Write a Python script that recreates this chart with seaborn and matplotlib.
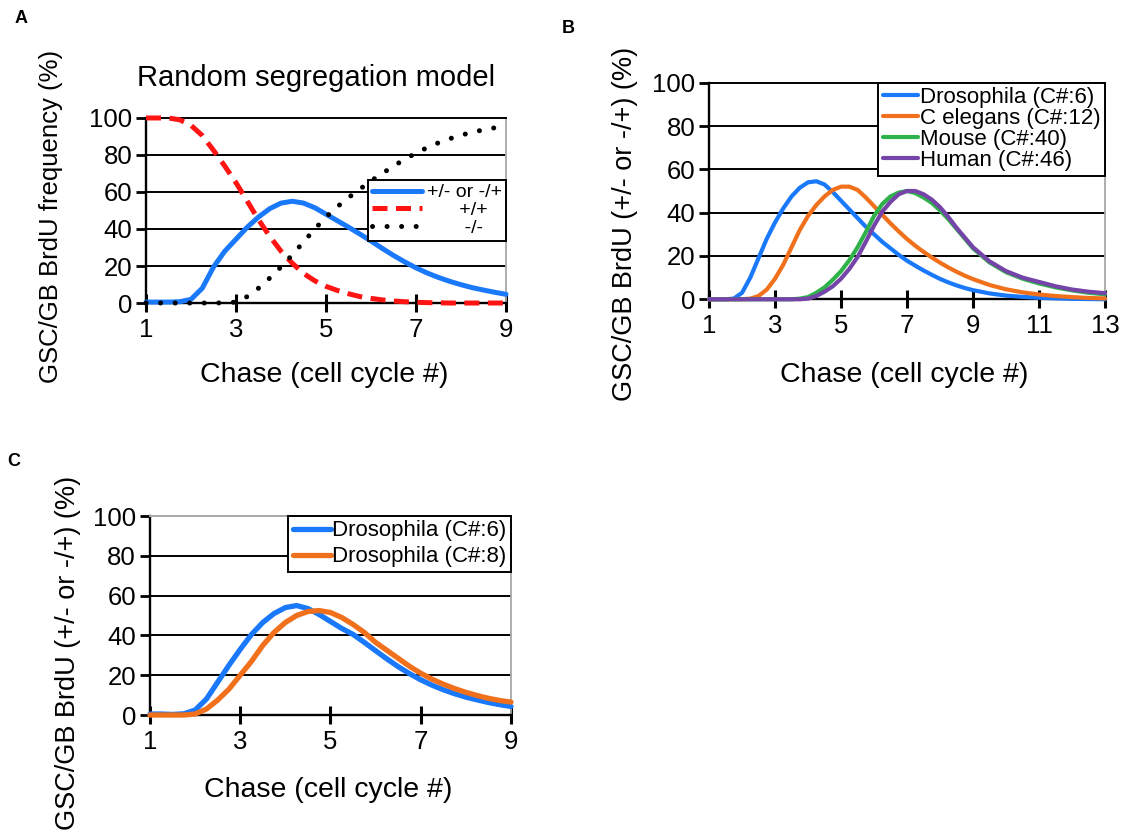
import pandas as pd
import matplotlib.pyplot as plt
import seaborn as sns

# ---- data ----
Y_TICKS = [0, 20, 40, 60, 80, 100]
X_TICKS_SHORT = [1, 3, 5, 7, 9]
X_TICKS_LONG = [1, 3, 5, 7, 9, 11, 13]

# panel A: random segregation model
chase_a = [1, 1.25, 1.5, 1.75, 2, 2.25, 2.5, 2.75, 3, 3.25, 3.5, 3.75, 4, 4.25, 4.5, 4.75,
           5, 5.25, 5.5, 5.75, 6, 6.25, 6.5, 6.75, 7, 7.25, 7.5, 7.75, 8, 8.25, 8.5, 8.75, 9]
hetero_a = [0.5, 0.5, 0.5, 0.7, 2, 8, 19.5, 28, 34.5, 41, 46.5, 51, 54, 55, 54, 51.5,
            48, 44.5, 41, 37.3, 33.5, 29.5, 25.7, 22.2, 19, 16.2, 13.8, 11.7, 9.9, 8.3, 7, 5.8, 4.7]
plus_plus_a = [100, 100, 100, 99, 96, 90.5, 82.5, 74, 65, 55, 45, 36, 28, 21.5, 16, 12,
               9, 6.8, 5, 3.5, 2.5, 1.7, 1.1, 0.7, 0.4, 0.2, 0.1, 0, 0, 0, 0, 0, 0]
minus_minus_a = [0, 0, 0, 0, 0, 0, 0, 0.1, 0.5, 3.5, 8, 13.5, 19.5, 26, 33, 40,
                 46.5, 52, 57, 61.5, 66, 70, 74, 77.7, 81, 84, 86.6, 88.8, 90.7, 92.3, 93.6, 94.7, 95.6]
labels_a = ['+/- or -/+', '      +/+', '       -/-']

# panel B: species with different chromosome numbers
chase_b = [1, 1.25, 1.5, 1.75, 2, 2.25, 2.5, 2.75, 3, 3.25, 3.5, 3.75, 4, 4.25, 4.5, 4.75,
           5, 5.25, 5.5, 5.75, 6, 6.25, 6.5, 6.75, 7, 7.25, 7.5, 7.75, 8, 8.25, 8.5, 8.75, 9,
           9.5, 10, 10.5, 11, 11.5, 12, 12.5, 13]
drosophila_b = [0, 0, 0, 0.3, 3, 10, 19, 28, 35.5, 42, 47.5, 51.5, 54, 54.5, 53, 49.5,
                45.5, 41.5, 37.5, 33.5, 30, 26.5, 23.5, 20.5, 17.8, 15.5, 13.3, 11.3, 9.4, 7.8, 6.4, 5.2, 4.2,
                2.7, 1.7, 1.1, 0.7, 0.4, 0.2, 0.1, 0]
celegans_b = [0, 0, 0, 0, 0, 0.3, 1.5, 4.5, 9.5, 16, 24, 32, 38.5, 43.5, 47.5, 50.5,
              52, 52, 50.5, 47, 43, 39, 35, 31.3, 27.8, 24.7, 21.9, 19.3, 16.9, 14.7, 12.7, 10.9, 9.3,
              6.6, 4.6, 3.2, 2.2, 1.5, 1, 0.6, 0.4]
mouse_b = [0, 0, 0, 0, 0, 0, 0, 0, 0, 0, 0, 0.3, 1, 3, 5.5, 9,
           13, 18, 24, 31, 38.5, 44, 47.5, 49.3, 50, 49, 47, 44.5, 41, 37, 32.5, 28, 23.5,
           17, 12.5, 9.5, 7.3, 5.5, 4.1, 3, 2.3]
human_b = [0, 0, 0, 0, 0, 0, 0, 0, 0, 0, 0, 0, 0.3, 1.5, 3.5, 6,
           9.5, 14, 19.5, 26.5, 34, 40.5, 45, 48.5, 50, 50, 48.5, 46, 42.5, 38, 33, 28.5, 24,
           17.5, 13, 10, 8, 6, 4.5, 3.5, 2.8]
labels_b = ['Drosophila (C#:6)', 'C elegans (C#:12)', 'Mouse (C#:40)', 'Human (C#:46)']

# panel C: Drosophila, 6 vs 8 chromatids
chase_c = [1, 1.25, 1.5, 1.75, 2, 2.25, 2.5, 2.75, 3, 3.25, 3.5, 3.75, 4, 4.25, 4.5, 4.75,
           5, 5.25, 5.5, 5.75, 6, 6.25, 6.5, 6.75, 7, 7.25, 7.5, 7.75, 8, 8.25, 8.5, 8.75, 9]
drosophila6_c = [0.5, 0.5, 0.3, 0.6, 2.5, 8, 16.5, 25, 33, 40.5, 46.5, 51, 54, 55, 53.5, 50.5,
                 47, 43.5, 40.5, 36.5, 32.3, 28.2, 24.3, 20.8, 17.7, 15, 12.7, 10.7, 9, 7.6, 6.3, 5.2, 4.3]
drosophila8_c = [0, 0, 0, 0, 0.5, 3, 7.5, 13, 20, 27, 35, 41.5, 46.5, 50, 52, 52.5,
                 51.5, 49, 45.5, 41.5, 36.5, 32.5, 28.5, 24.5, 21, 18, 15.5, 13.3, 11.4, 9.8, 8.4, 7.3, 6.5]
labels_c = ['Drosophila (C#:6)', 'Drosophila (C#:8)']

BLUE = '#1a78fa'
ORANGE = '#f0701c'
GREEN = '#30b24a'
PURPLE = '#7444a8'
RED = '#ff1414'

XLABEL = 'Chase (cell cycle #)'
YLABEL_HET = 'GSC/GB BrdU (+/- or -/+) (%)'


def style_axes(ax, xticks, top_color='black'):
    ax.set_xlim(xticks[0], xticks[-1])
    ax.set_ylim(0, 100)
    ax.set_xticks(xticks)
    ax.set_yticks(Y_TICKS)
    ax.yaxis.grid(True, color='black', linewidth=1.4)
    ax.xaxis.grid(False)
    ax.get_ygridlines()[-1].set_visible(False)
    for side in ['left', 'bottom']:
        ax.spines[side].set_color('black')
        ax.spines[side].set_linewidth(1.7)
    ax.spines['top'].set_color(top_color)
    ax.spines['top'].set_linewidth(1.4)
    ax.spines['right'].set_color('#a8a8a8')
    ax.spines['right'].set_linewidth(1.3)
    ax.tick_params(axis='x', which='major', direction='inout', length=13, width=2.2,
                   labelsize=18.5, pad=4, color='black')
    ax.tick_params(axis='y', which='major', direction='out', length=7, width=2.0,
                   labelsize=18.5, pad=3, color='black')


def legend_style(ax, anchor, fontsize, handlelength, labelspacing, textpad):
    leg = ax.legend(loc='upper right', bbox_to_anchor=anchor, fontsize=fontsize, frameon=True,
                    fancybox=False, shadow=False, framealpha=1, borderpad=0.2,
                    borderaxespad=0, handlelength=handlelength, handletextpad=textpad,
                    labelspacing=labelspacing)
    leg.get_frame().set_edgecolor('black')
    leg.get_frame().set_linewidth(1.4)
    return leg


sns.set_theme(style='ticks')
plt.rcParams['font.family'] = ['Liberation Sans', 'DejaVu Sans']
plt.rcParams.update({'axes.labelcolor': 'black', 'text.color': 'black',
                     'xtick.labelcolor': 'black', 'ytick.labelcolor': 'black'})

fig = plt.figure(figsize=(11.26, 8.32), dpi=100)

# ---- panel A ----
ax_a = fig.add_axes([0.1297, 0.6358, 0.3197, 0.2224])
sns.lineplot(x=chase_a, y=hetero_a, ax=ax_a, color=BLUE, linewidth=3.6,
             label=labels_a[0], clip_on=False, zorder=3, solid_joinstyle='round')
sns.lineplot(x=chase_a, y=plus_plus_a, ax=ax_a, color=RED, linewidth=3.6,
             linestyle=(0, (3, 1.7)), label=labels_a[1], clip_on=False, zorder=3)
sns.lineplot(x=chase_a, y=minus_minus_a, ax=ax_a, color='black', linewidth=3.6,
             linestyle=(0, (0.01, 2.9)), dash_capstyle='round', label=labels_a[2],
             clip_on=False, zorder=3)
style_axes(ax_a, X_TICKS_SHORT)
legend_style(ax_a, (1.0, 0.665), 14, 2.6, 0.0, 0.25)
ax_a.set_title('Random segregation model', fontsize=21, x=0.471, y=1.173, pad=0)
ax_a.set_xlabel(XLABEL, fontsize=20.5)
ax_a.xaxis.set_label_coords(0.495, -0.319)
ax_a.set_ylabel('GSC/GB BrdU frequency (%)', fontsize=18.5)
ax_a.yaxis.set_label_coords(-0.23, 0.468)

# ---- panel B ----
ax_b = fig.add_axes([0.6297, 0.6403, 0.3517, 0.2603])
for series, color, label in zip([drosophila_b, celegans_b, mouse_b, human_b],
                                [BLUE, ORANGE, GREEN, PURPLE], labels_b):
    sns.lineplot(x=chase_b, y=series, ax=ax_b, color=color, linewidth=3.0,
                 label=label, clip_on=False, zorder=3, solid_joinstyle='round')
style_axes(ax_b, X_TICKS_LONG)
legend_style(ax_b, (1.0, 1.0), 16, 1.6, 0.0, 0.08)
ax_b.set_xlabel(XLABEL, fontsize=20.5)
ax_b.xaxis.set_label_coords(0.492, -0.29)
ax_b.set_ylabel(YLABEL_HET, fontsize=19.5)
ax_b.yaxis.set_label_coords(-0.179, 0.35)

# ---- panel C ----
ax_c = fig.add_axes([0.1332, 0.1406, 0.3206, 0.2392])
sns.lineplot(x=chase_c, y=drosophila6_c, ax=ax_c, color=BLUE, linewidth=3.8,
             label=labels_c[0], clip_on=False, zorder=3, solid_joinstyle='round')
sns.lineplot(x=chase_c, y=drosophila8_c, ax=ax_c, color=ORANGE, linewidth=3.8,
             label=labels_c[1], clip_on=False, zorder=3, solid_joinstyle='round')
style_axes(ax_c, X_TICKS_SHORT, top_color='#a8a8a8')
legend_style(ax_c, (1.0, 1.0), 16, 1.7, 0.22, 0.08)
ax_c.set_xlabel(XLABEL, fontsize=20.5)
ax_c.xaxis.set_label_coords(0.495, -0.31)
ax_c.set_ylabel(YLABEL_HET, fontsize=19.5)
ax_c.yaxis.set_label_coords(-0.191, 0.31)

# panel letters
fig.text(0.0187, 0.978, 'A', fontsize=13, fontweight='bold', ha='center', va='center')
fig.text(0.505, 0.966, 'B', fontsize=13, fontweight='bold', ha='center', va='center')
fig.text(0.0124, 0.445, 'C', fontsize=13, fontweight='bold', ha='center', va='center')

fig.savefig('out.png', dpi=100)
